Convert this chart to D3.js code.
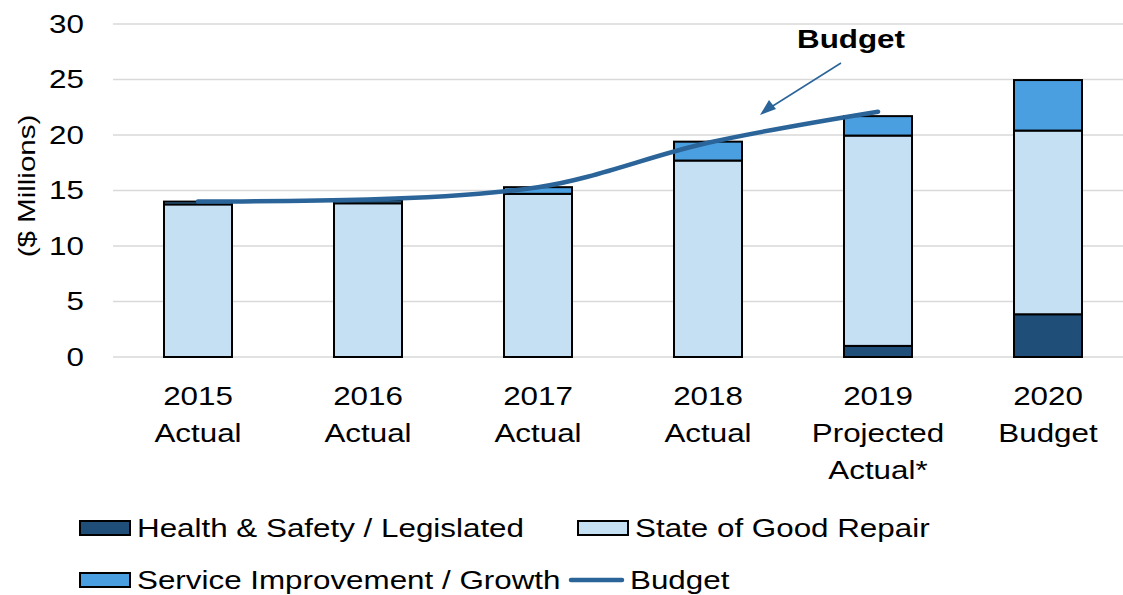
<!DOCTYPE html>
<html>
<head>
<meta charset="utf-8">
<script src="https://cdn.jsdelivr.net/npm/d3@7"></script>
<style>
  body { margin: 0; background: #fff; }
  text { font-family: "Liberation Sans", Arial, sans-serif; fill: #000; }
</style>
</head>
<body>
<div id="chart"></div>
<script>
// data
let categories = [["2015", "Actual"], ["2016", "Actual"], ["2017", "Actual"],
    ["2018", "Actual"], ["2019", "Projected", "Actual*"], ["2020", "Budget"]];
let healthSafety = [0, 0, 0, 0, 1.0, 3.85];
let goodRepair = [13.75, 13.85, 14.7, 17.7, 18.95, 16.55];
let serviceGrowth = [0.25, 0.25, 0.6, 1.7, 1.75, 4.55];
let budget = [14.0, 14.2, 15.3, 19.3, 22.1];
let yTicks = [0, 5, 10, 15, 20, 25, 30];

let seriesNames = ["Health & Safety / Legislated", "State of Good Repair", "Service Improvement / Growth"];
let colors = ["#1f4e79", "#c5dff3", "#4a9fe0"];
let lineColor = "#2a6499";

let width = 1123, height = 595;
let margin = { top: 24, right: -10, bottom: 238, left: 113 };
let stretch = 1.23; // text in the picture is a bit wider than normal

let svg = d3.select("#chart").append("svg")
    .attr("width", width)
    .attr("height", height);

let x = d3.scaleBand()
    .domain(d3.range(categories.length))
    .range([margin.left, width - margin.right])
    .paddingInner(0.6)
    .paddingOuter(0.3);

let y = d3.scaleLinear()
    .domain([0, 30])
    .range([height - margin.bottom, margin.top]);

// gridlines
svg.append("g")
    .selectAll("line")
    .data(yTicks)
    .join("line")
    .attr("x1", margin.left)
    .attr("x2", width)
    .attr("y1", d => y(d))
    .attr("y2", d => y(d))
    .attr("stroke", "#d9d9d9")
    .attr("stroke-width", 1.5);

// y tick labels
svg.append("g")
    .selectAll("text")
    .data(yTicks)
    .join("text")
    .attr("transform", d => "translate(84," + y(d) + ") scale(" + stretch + ",1)")
    .attr("text-anchor", "end")
    .attr("dy", "0.35em")
    .style("font-size", "25.5px")
    .text(d => d);

svg.append("text")
    .attr("transform", "translate(35," + 186 + ") rotate(-90) scale(" + stretch + ",1)")
    .attr("text-anchor", "middle")
    .style("font-size", "24px")
    .text("($ Millions)");

// stacked bars
let rows = categories.map((c, i) => ({
    i: i,
    h: healthSafety[i],
    g: goodRepair[i],
    s: serviceGrowth[i]
}));
let stacked = d3.stack().keys(["h", "g", "s"])(rows);

svg.append("g")
    .selectAll("g")
    .data(stacked)
    .join("g")
    .attr("fill", (d, k) => colors[k])
    .selectAll("rect")
    .data(d => d.filter(p => p[1] - p[0] > 0))
    .join("rect")
    .attr("x", d => x(d.data.i))
    .attr("y", d => y(d[1]))
    .attr("width", x.bandwidth())
    .attr("height", d => y(d[0]) - y(d[1]))
    .attr("stroke", "#000")
    .attr("stroke-width", 2);

// budget line
let line = d3.line()
    .x((d, i) => x(i) + x.bandwidth() / 2)
    .y(d => y(d))
    .curve(d3.curveMonotoneX);

svg.append("path")
    .datum(budget)
    .attr("d", line)
    .attr("fill", "none")
    .attr("stroke", lineColor)
    .attr("stroke-width", 4.5)
    .attr("stroke-linecap", "round");

// x labels
let xl = svg.append("g")
    .selectAll("g")
    .data(categories)
    .join("g")
    .attr("transform", (d, i) => "translate(" + (x(i) + x.bandwidth() / 2) + ",405) scale(" + stretch + ",1)");
xl.selectAll("text")
    .data(d => d)
    .join("text")
    .attr("y", (d, j) => j * 37)
    .attr("text-anchor", "middle")
    .style("font-size", "25.5px")
    .text(d => d);

// annotation
svg.append("line")
    .attr("x1", 841).attr("y1", 63)
    .attr("x2", 768).attr("y2", 109)
    .attr("stroke", lineColor)
    .attr("stroke-width", 1.5);
svg.append("path")
    .attr("d", "M760,115 L769,100 L776,109 Z")
    .attr("fill", lineColor);

svg.append("text")
    .attr("transform", "translate(851,48) scale(" + stretch + ",1)")
    .attr("text-anchor", "middle")
    .style("font-size", "25.5px")
    .style("font-weight", "bold")
    .text("Budget");

// legend
let legendItems = [
    { name: seriesNames[0], type: "rect", color: colors[0], x: 80, y: 528 },
    { name: seriesNames[1], type: "rect", color: colors[1], x: 578, y: 528 },
    { name: seriesNames[2], type: "rect", color: colors[2], x: 80, y: 580 },
    { name: "Budget", type: "line", color: lineColor, x: 568, y: 580 }
];
let lg = svg.append("g")
    .selectAll("g")
    .data(legendItems)
    .join("g")
    .attr("transform", d => "translate(" + d.x + "," + d.y + ")");
lg.filter(d => d.type === "rect").append("rect")
    .attr("x", 0).attr("y", -7)
    .attr("width", 50).attr("height", 14)
    .attr("fill", d => d.color)
    .attr("stroke", "#000")
    .attr("stroke-width", 2);
lg.filter(d => d.type === "line").append("line")
    .attr("x1", 3).attr("x2", 54)
    .attr("y1", 0).attr("y2", 0)
    .attr("stroke", d => d.color)
    .attr("stroke-width", 4.5)
    .attr("stroke-linecap", "round");
lg.append("text")
    .attr("transform", d => "translate(" + (d.type === "line" ? 62 : 57) + ",9) scale(" + stretch + ",1)")
    .style("font-size", "25.5px")
    .text(d => d.name);
</script>
</body>
</html>
